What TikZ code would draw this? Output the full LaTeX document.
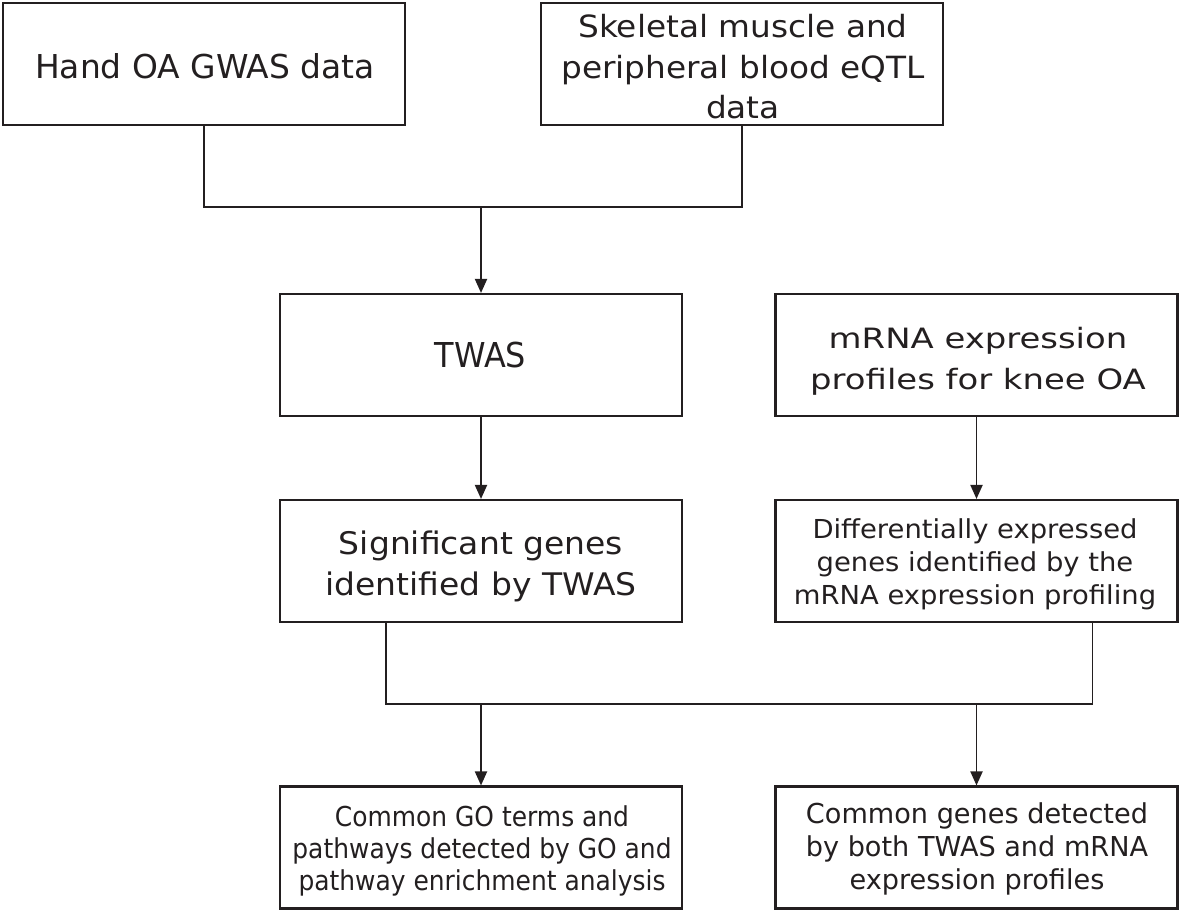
\documentclass[tikz,border=0pt]{standalone}
\usepackage{fontspec}
\setmainfont{DejaVu Sans}
\newfontfamily\fntA{DejaVu Sans}
\newfontfamily\fntB[FakeStretch=1.07]{DejaVu Sans}
\newfontfamily\fntC[FakeStretch=0.93]{DejaVu Sans}
\newfontfamily\fntD[FakeStretch=1.21]{DejaVu Sans}
\newfontfamily\fntE[FakeStretch=1.06]{DejaVu Sans}
\newfontfamily\fntF[FakeStretch=1.05]{DejaVu Sans}
\newfontfamily\fntG[FakeStretch=0.91]{DejaVu Sans}
\newfontfamily\fntH[FakeStretch=0.99]{DejaVu Sans}
\usetikzlibrary{arrows.meta}
\definecolor{ink}{HTML}{231F20}
\tikzset{
  box/.style={draw=ink, line width=2.1pt, minimum width=402pt, minimum height=122pt, inner sep=0pt},
  txt/.style={text=ink, inner sep=0pt, anchor=base},
  link/.style={draw=ink, line width=1.9pt},
  arr/.style={link, -{Triangle[width=12pt,length=14pt]}},
}
\newcommand{\tl}[1]{\begin{tabular}[t]{@{}c@{}}#1\end{tabular}}
\begin{document}
\begin{tikzpicture}[x=1pt,y=-1pt]
\useasboundingbox (0,0) rectangle (1181,912);
% boxes
\node[box] (b1) at (204,64) {};
\node[box] (b2) at (742,64) {};
\node[box] (twas) at (481,355) {};
\node[box] (mrna) at (976.5,355) {};
\node[box] (sig) at (481,561) {};
\node[box] (diff) at (976.5,561) {};
\node[box] (go) at (481,847.5) {};
\node[box] (cg) at (976.5,847.5) {};
% texts
\node[txt, font=\fntA\fontsize{32.9}{40}\selectfont] (b1t) at (205,79) {\tl{Hand OA GWAS data}};
\node[txt, font=\fntB\fontsize{30.6}{40.8}\selectfont] (b2t) at (743,37.3) {\tl{Skeletal muscle and\\peripheral blood eQTL\\data}};
\node[txt, font=\fntC\fontsize{34.3}{40}\selectfont] (twast) at (480.5,367.3) {\tl{TWAS}};
\node[txt, font=\fntD\fontsize{28}{41}\selectfont] (mrnat) at (978,348) {\tl{mRNA expression\\profiles for knee OA}};
\node[txt, font=\fntE\fontsize{31.1}{40.7}\selectfont] (sigt) at (481,554.3) {\tl{Significant genes\\identified by TWAS}};
\node[txt, font=\fntF\fontsize{26.1}{33.3}\selectfont] (difft) at (975,538.3) {\tl{Differentially expressed\\genes identified by the\\mRNA expression profiling}};
\node[txt, font=\fntG\fontsize{27.4}{32}\selectfont] (got) at (482,826) {\tl{Common GO terms and\\pathways detected by GO and\\pathway enrichment analysis}};
\node[txt, font=\fntH\fontsize{27.4}{33.3}\selectfont] (cgt) at (977,823.3) {\tl{Common genes detected\\by both TWAS and mRNA\\expression profiles}};
% connectors
\coordinate (j1) at (481,207);
\coordinate (j2) at (481,704.3);
\coordinate (j3) at (976.5,704.3);
\draw[link] (b1.south) |- (j1) -| (b2.south);
\draw[arr] (j1) -- (twas.north);
\draw[arr] (twas.south) -- (sig.north);
\draw[arr] (mrna.south) -- (diff.north);
\draw[link] ([xshift=-95pt]sig.south) |- (j2) -- (j3) -| ([xshift=116pt]diff.south);
\draw[arr] (j2) -- (go.north);
\draw[arr] (j3) -- (cg.north);
\end{tikzpicture}
\end{document}
